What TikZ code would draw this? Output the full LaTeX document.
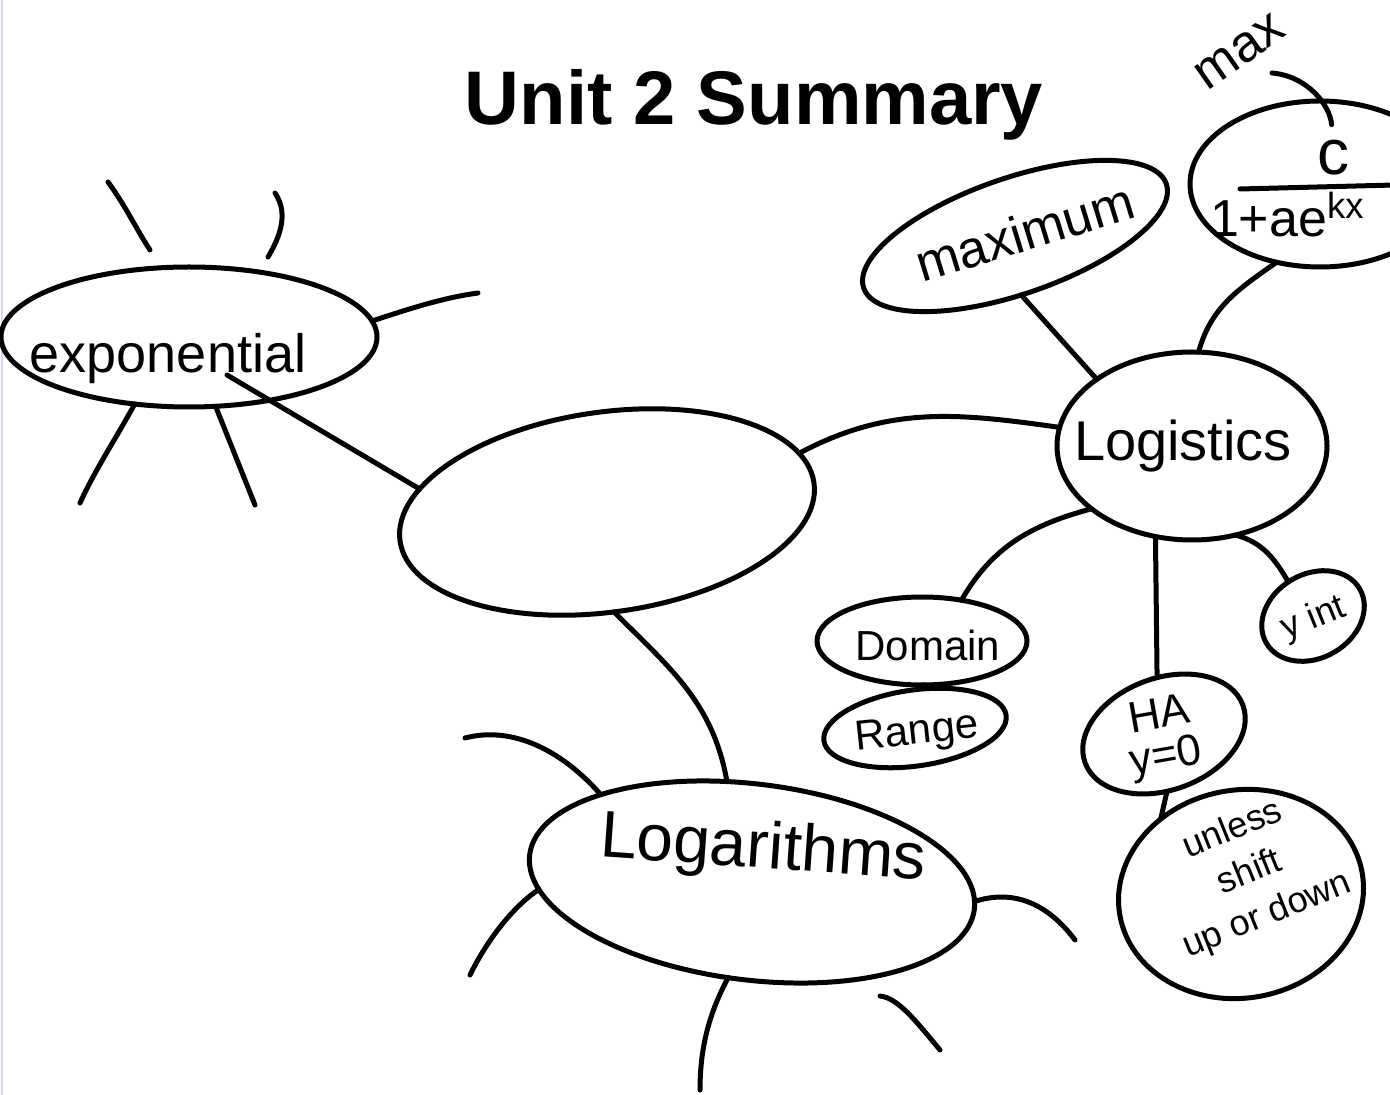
\documentclass[tikz,border=0pt]{standalone}
\usepackage{fontspec}
\setmainfont{Liberation Sans}
\usetikzlibrary{shapes.geometric}
\definecolor{edgeline}{HTML}{D6D6F2}
\tikzset{
  ink/.style={line width=2.5pt,line cap=round,line join=round},
  bubble/.style n args={3}{ink,draw,ellipse,inner sep=0pt,outer sep=0pt,
     minimum width=#1pt,minimum height=#2pt,rotate=#3},
  hand/.style={inner sep=0pt,outer sep=0pt,font={\fontsize{#1}{#1}\selectfont}},
}
\begin{document}
\begin{tikzpicture}[x=0.5pt,y=-0.5pt]
\useasboundingbox (0,0) rectangle (1390,1095);
\fill[white] (0,0) rectangle (1390,1095);
\clip (0,0) rectangle (1390,1095);
\draw[edgeline,line width=1pt] (2,0) -- (2,1095);

% bubbles
\node[bubble={188}{70}{0}] (exp) at (189,337) {};
\node[bubble={209}{100}{8}] (ctr) at (607,512) {};
\node[bubble={135}{94}{0}] (lgs) at (1192,446) {};
\node[bubble={160}{58}{19}] (mxm) at (1015,236) {};
\node[bubble={130}{83}{0}] (frm) at (1320,184) {};
\node[bubble={105}{44}{0}] (dom) at (922,641) {};
\node[bubble={92}{38}{8}] (rng) at (915,728) {};
\node[bubble={54}{42}{30}] (yin) at (1313,616) {};
\node[bubble={84}{56}{20}] (ha) at (1164,734) {};
\node[bubble={123}{104}{10}] (unl) at (1241,894) {};
\node[bubble={224}{98}{-7}] (log) at (752,882) {};

% texts
\node[inner sep=0pt,anchor=base,font={\fontsize{38}{38}\selectfont\bfseries}] (title) at (754,125) {Unit 2 Summary};
\node[hand=27,anchor=base] (expt) at (168,373) {exponential};
\node[hand=28,anchor=base] (lgst) at (1183,461) {Logistics};
\node[hand=26,anchor=base,rotate=17] (mxmt) at (1030,250) {maximum};
\node[hand=33,anchor=base,rotate=-4] (logt) at (762,868) {Logarithms};
\node[hand=21,anchor=base] (domt) at (928,660) {Domain};
\node[hand=21,anchor=base,rotate=6] (rngt) at (918,744) {Range};
\node[hand=18,rotate=22] (yint) at (1314,619) {y int};
\node[inner sep=0pt,align=center,rotate=10,font={\fontsize{22}{21}\selectfont}] (hat) at (1163,738) {HA\\y=0};
\node[inner sep=0pt,align=center,rotate=22,font={\fontsize{18}{23}\selectfont}] (unlt) at (1250,873) {unless\\shift\\up or down};
\node[hand=26,rotate=35] (maxt) at (1240,52) {max};
\node[hand=32,anchor=base] (cnum) at (1333,175) {c};
\node[hand=26,anchor=base west] (den) at (1210,237) {1+ae\textsuperscript{kx}};
\draw[ink] (1240,189) -- (1395,185);

% connectors
\draw[ink] ([shift={(38,38)}]exp.center) -- (ctr.165);
\draw[ink] (ctr.9) to[out=28,in=172] (lgs.172);
\draw[ink] (ctr.-94) to[out=-45,in=100] (log.111);
\draw[ink] (mxm.-103) -- (lgs.145);
\draw[ink] (frm.-119) to[out=-145,in=75] (lgs.86);
\draw[ink] (lgs.-148) to[out=-165,in=60] (dom.46);
\draw[ink] (lgs.-112) -- (ha.77);
\draw[ink] (lgs.-64) to[out=-15,in=120] (yin.96);
\draw[ink] (dom.-87) -- (rng.59);
\draw[ink] (ha.-107) -- (unl.127);
\draw[ink,shorten >=8pt] ([shift={(32,21)}]maxt.center) to[out=-5,in=95] (cnum.north);

% rays
\draw[ink] (108,182) .. controls (125,205) and (138,232) .. (150,250);
\draw[ink] (275,193) .. controls (290,215) and (278,240) .. (268,257);
\draw[ink] (exp.5) .. controls (400,312) and (440,298) .. (478,293);
\draw[ink] (exp.-129) .. controls (115,440) and (95,470) .. (80,503);
\draw[ink] (exp.-69) -- (255,505);
\draw[ink] (465,738) .. controls (510,726) and (560,748) .. (log.157);
\draw[ink] (log.-171) .. controls (515,905) and (488,938) .. (470,975);
\draw[ink] (log.-97) .. controls (708,1015) and (700,1050) .. (700,1090);
\draw[ink] (880,996) .. controls (898,998) and (915,1020) .. (940,1050);
\draw[ink] (log.2) .. controls (1010,890) and (1045,900) .. (1075,940);
\end{tikzpicture}
\end{document}
